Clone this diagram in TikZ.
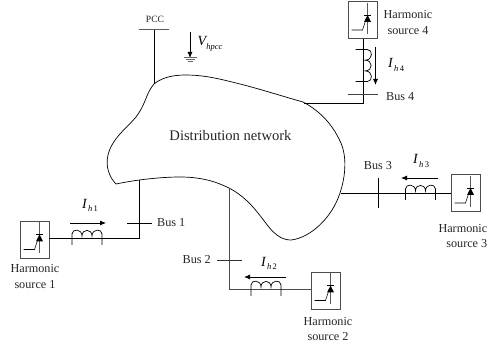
\documentclass[tikz,border=0pt]{standalone}
\usepackage{fontspec}
\setmainfont{Liberation Serif}
\usetikzlibrary{arrows.meta}
\tikzset{
 wire/.style={line width=0.8pt,black},
 grayw/.style={line width=0.9pt,black!65},
 flow/.style={line width=0.8pt,-{Latex[length=6pt,width=5pt]}},
 lab/.style={font=\fontsize{12.2}{15.5}\selectfont,inner sep=0pt,text=black!85,align=center},
 cur/.style={font=\fontsize{14}{16}\selectfont\itshape,inner sep=0pt},
 box/.style={draw=black!70,line width=0.9pt,minimum width=29pt,minimum height=37pt,inner sep=0pt,fill=white},
}
\newcommand{\hsrc}[3]{%
 \node[box] (#3) at (#1,#2) {};
 \begin{scope}[shift={(#1,#2)}]
 \draw[line width=.6pt] (-11,10) -- (0,10) -- (4,-2);
 \draw[line width=.8pt,black!65] (5,-17) -- (5,14);
 \fill (5,-5) -- (1.5,2) -- (8.5,2) -- cycle;
 \draw[line width=.6pt] (1.5,-5) -- (8.5,-5);
 \end{scope}}
\newcommand{\coil}{%
 \draw[line width=.7pt] (0,7) -- (0,-4) .. controls (0,-9.5) and (10,-9.5) .. (10,-2)
  .. controls (10,-9.5) and (20,-9.5) .. (20,-2)
  .. controls (20,-9.5) and (30,-9.5) .. (30,-4) -- (30,7);}
\newcommand{\curlab}[2]{\textit{#1}\raisebox{-3.5pt}{\fontsize{8.5}{8.5}\selectfont\,\textit{h}\,\upshape #2}}
\begin{document}
\begin{tikzpicture}[x=1pt,y=-1pt]
\useasboundingbox (0,0) rectangle (488,347);
% network
\draw[line width=.7pt] (116,184) .. controls (135,180) and (160,177) .. (180,177)
 .. controls (200,177) and (215,181) .. (229,188)
 .. controls (248,198) and (258,213) .. (268,226)
 .. controls (276,236) and (283,240) .. (291,240)
 .. controls (310,238) and (332,218) .. (340,193)
 .. controls (346,175) and (347,155) .. (340,141)
 .. controls (332,124) and (320,111) .. (303,102)
 .. controls (285,97) and (260,89) .. (240,84)
 .. controls (220,79) and (205,75) .. (185,75)
 .. controls (170,75) and (160,79) .. (154,84)
 .. controls (146,93) and (146,104) .. (136,117)
 .. controls (128,127) and (112,138) .. (108,155)
 .. controls (105,167) and (110,178) .. (116,184) -- cycle;
\node[lab,font=\fontsize{14.6}{17}\selectfont] (net) at (230.5,136) {Distribution network};
% PCC
\coordinate (pj) at (154,84);
\coordinate (pt) at (154,29);
\coordinate (pl) at (139,29);
\coordinate (pr) at (169,29);
\draw[wire] (pj) -- (pt);
\draw[grayw] (pl) -- (pr);
\node[lab,font=\fontsize{9.6}{11}\selectfont] (pccl) at (155,19.5) {PCC};
\coordinate (va) at (190,32);
\coordinate (vb) at (190,58);
\draw[flow] (va) -- (vb);
\draw[line width=1pt,black!60] (184,58) -- (197,58) (186,60) -- (195,60) (188,62) -- (193,62);
\node[cur,anchor=west] (v) at (197.5,44) {V\raisebox{-3.5pt}{\fontsize{8.5}{8.5}\selectfont hpcc}};
% Source 1
\hsrc{34.5}{239.5}{s1}
\coordinate (c1) at (139,238);
\coordinate (j1) at (139,180);
\draw[wire] (s1.east |- c1) -- (c1) -- (j1);
\begin{scope}[shift={(72,238)}]\coil\end{scope}
\draw[grayw,black] (127,223) -- (152,223);
\node[lab,anchor=west] (b1) at (157,223) {Bus 1};
\draw[flow] (70,223) -- (106,223);
\node[cur] (i1) at (90,205.5) {\curlab{I}{1}};
\node[lab] (t1) at (35,276.5) {Harmonic\\source 1};
% Source 2
\hsrc{325.5}{290.5}{s2}
\coordinate (c2) at (229,289);
\coordinate (j2) at (229,188);
\draw[grayw,black!70] (s2.west |- c2) -- (c2) -- (j2);
\begin{scope}[shift={(251,289)}]\coil\end{scope}
\draw[grayw,black!80] (217,260) -- (242,260);
\node[lab,anchor=east] (b2) at (211,260) {Bus 2};
\draw[flow] (286,277) -- (244,277);
\node[cur] (i2) at (269,263.5) {\curlab{I}{2}};
\node[lab] (t2) at (328,329) {Harmonic\\source 2};
% Source 3
\hsrc{465.5}{193}{s3}
\coordinate (j3) at (341,193);
\draw[wire] (s3.west |- j3) -- (j3);
\begin{scope}[shift={(405.5,193)}]\coil\end{scope}
\draw[wire] (378,178) -- (378,208);
\node[lab] (b3) at (378,166) {Bus 3};
\draw[flow] (438,178) -- (401,178);
\node[cur] (i3) at (421,161) {\curlab{I}{3}};
\node[lab,anchor=east,align=right] (t3) at (487.5,236) {Harmonic\\source 3};
% Source 4
\hsrc{362.5}{20}{s4}
\coordinate (c4) at (363,103);
\coordinate (j4) at (304,103);
\draw[wire] (s4.south -| c4) -- (c4) -- (j4);
\begin{scope}[shift={(363,49.5)},rotate=-90,scale=1.07]\coil\end{scope}
\draw[grayw,black!75] (348,94.5) -- (378,94.5);
\node[lab,anchor=west] (b4) at (386,97) {Bus 4};
\draw[flow] (375.5,47) -- (375.5,85);
\node[cur] (i4) at (396,65) {\curlab{I}{4}};
\node[lab] (t4) at (408,22.5) {Harmonic\\source 4};
\end{tikzpicture}
\end{document}
